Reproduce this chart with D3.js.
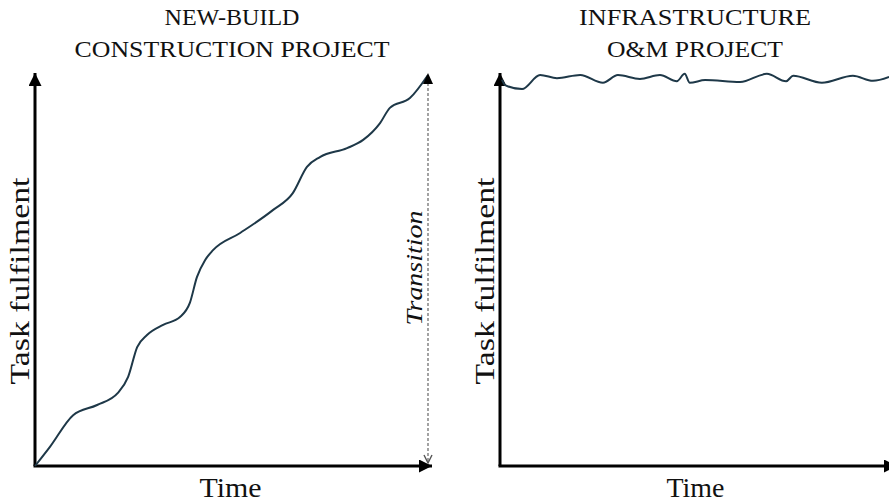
<!DOCTYPE html>
<html>
<head>
<meta charset="utf-8">
<script src="https://cdn.jsdelivr.net/npm/d3@7"></script>
<style>
  html, body { margin: 0; padding: 0; background: #fff; }
  svg { display: block; }
  text { font-family: "Liberation Serif", "Times New Roman", serif; fill: #111; }
</style>
</head>
<body>
<svg id="chart" width="889" height="504"></svg>
<script>
// ---- data ----
const panelTitles = [["NEW-BUILD", "CONSTRUCTION PROJECT"], ["INFRASTRUCTURE", "O&M PROJECT"]];
const xLabel = "Time";
const yLabel = "Task fulfilment";
const transitionLabel = "Transition";

// New-build construction: time (%), task fulfilment (%)
const buildTime  = [0, 3.8, 9.7, 15.8, 21.1, 23.7, 26.0, 28.5, 32.6, 36.9, 39.4, 41.2, 43.3, 45.3, 52.2, 60.6, 65.6, 69.2, 72.5, 79.4, 83.5, 87.8, 90.3, 95.4, 100];
const buildValue = [0, 4.9, 13.0, 15.6, 18.7, 22.8, 30.4, 33.5, 36.1, 38.1, 41.7, 48.3, 52.7, 55.2, 59.6, 65.5, 69.8, 76.5, 79.0, 81.3, 83.4, 87.7, 91.6, 94.1, 100];

// Infrastructure O&M: time (%), task fulfilment (%)
const omTime  = [0.5, 1.3, 5.6, 10.2, 14.5, 20.4, 26.2, 30.0, 35.6, 40.7, 45.0, 47.0, 48.3, 52.2, 61.1, 67.9, 72.8, 74.6, 81.9, 89.8, 94.9, 99.0];
const omValue = [98.8, 97.4, 96.4, 100, 99.2, 100, 98.0, 100, 99.0, 100, 98.4, 100.3, 98.0, 98.7, 98.2, 100.3, 98.4, 99.8, 98.0, 99.8, 98.5, 99.5];

// ---- layout ----
const svg = d3.select("#chart");
const curveColor = "#1e3848";

const defs = svg.append("defs");
defs.append("marker").attr("id", "arrow").attr("viewBox", "0 0 10 10")
  .attr("refX", 10).attr("refY", 5).attr("markerUnits", "userSpaceOnUse")
  .attr("markerWidth", 15).attr("markerHeight", 13).attr("orient", "auto")
  .append("path").attr("d", "M0,0 L10,5 L0,10 Z").attr("fill", "#000");
defs.append("marker").attr("id", "chevron").attr("viewBox", "0 0 10 10")
  .attr("refX", 9).attr("refY", 5).attr("markerUnits", "userSpaceOnUse")
  .attr("markerWidth", 10).attr("markerHeight", 10).attr("orient", "auto")
  .append("path").attr("d", "M1,1 L9,5 L1,9").attr("fill", "none")
  .attr("stroke", "#555").attr("stroke-width", 1.4);

const panels = [
  { x0: 35, x1: 428, title: panelTitles[0], cx: 232, t: buildTime, v: buildValue, axisEnd: 432 },
  { x0: 500, x1: 893, title: panelTitles[1], cx: 695, t: omTime, v: omValue, axisEnd: 897 }
];
const yBottom = 466, yTop = 75;

panels.forEach((p, i) => {
  const x = d3.scaleLinear().domain([0, 100]).range([p.x0, p.x1]);
  const y = d3.scaleLinear().domain([0, 100]).range([yBottom, yTop]);
  const g = svg.append("g");

  // titles
  const titleWidths = i === 0 ? [135, 315] : [232, 176];
  p.title.forEach((line, k) => {
    g.append("text").attr("x", p.cx).attr("y", 25 + k * 32)
      .attr("text-anchor", "middle").attr("font-size", 23.5)
      .attr("textLength", titleWidths[k]).attr("lengthAdjust", "spacingAndGlyphs")
      .text(line);
  });

  // axes
  g.append("line").attr("x1", x(0)).attr("y1", y(0)).attr("x2", x(0)).attr("y2", y(100) - 2)
    .attr("stroke", "#000").attr("stroke-width", 3).attr("marker-end", "url(#arrow)");
  g.append("line").attr("x1", x(0) - 1.5).attr("y1", y(0)).attr("x2", p.axisEnd).attr("y2", y(0))
    .attr("stroke", "#000").attr("stroke-width", 3).attr("marker-end", "url(#arrow)");

  // axis labels
  g.append("text").attr("x", (p.x0 + p.x1) / 2 - 1).attr("y", 497)
    .attr("text-anchor", "middle").attr("font-size", 28)
    .attr("textLength", i === 0 ? 62 : 58).attr("lengthAdjust", "spacingAndGlyphs")
    .text(xLabel);
  g.append("text")
    .attr("transform", `translate(${p.x0 - 6},${281}) rotate(-90)`)
    .attr("text-anchor", "middle").attr("font-size", 28)
    .attr("textLength", 207).attr("lengthAdjust", "spacingAndGlyphs")
    .text(yLabel);

  // data curve
  const pts = p.t.map((t, j) => [t, p.v[j]]);
  const line = d3.line().x(d => x(d[0])).y(d => y(d[1])).curve(d3.curveMonotoneX);
  g.append("path").datum(pts).attr("d", line)
    .attr("fill", "none").attr("stroke", curveColor).attr("stroke-width", 2);

  if (i === 0) {
    // transition arrow
    g.append("line").attr("x1", x(100)).attr("y1", y(100) + 8).attr("x2", x(100)).attr("y2", y(0) - 3)
      .attr("stroke", "#666").attr("stroke-width", 1.2).attr("stroke-dasharray", "3,2")
      .attr("marker-end", "url(#chevron)");
    g.append("path").attr("d", `M${x(100) - 5},${y(100) + 9} L${x(100)},${y(100) - 2} L${x(100) + 5},${y(100) + 9} Z`)
      .attr("fill", "#000");
    g.append("text")
      .attr("transform", `translate(${x(100) - 6},${268}) rotate(-90)`)
      .attr("text-anchor", "middle").attr("font-size", 24).attr("font-style", "italic")
      .attr("textLength", 115).attr("lengthAdjust", "spacingAndGlyphs")
      .text(transitionLabel);
  }
});
</script>
</body>
</html>
